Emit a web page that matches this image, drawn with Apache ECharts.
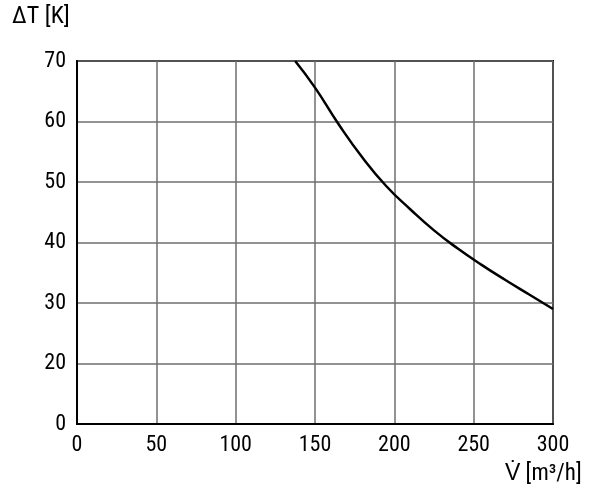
<!DOCTYPE html>
<html>
<head>
<meta charset="utf-8">
<script src="https://cdn.jsdelivr.net/npm/echarts@6/dist/echarts.min.js"></script>
<style>
  html, body { margin: 0; padding: 0; background: #fff; }
  #chart { width: 600px; height: 499px; }
</style>
</head>
<body>
<div id="chart"></div>
<script>
// volume flow [m3/h] vs temperature rise [K]
const flowValues = [137.5, 150, 165, 180, 195, 210, 225, 240, 255, 270, 285, 300];
const deltaTValues = [70, 65.6, 59.5, 54.0, 49.3, 45.5, 42.0, 39.0, 36.3, 33.8, 31.4, 29.0];
const xTicks = [0, 50, 100, 150, 200, 250, 300];
// y axis is broken: 0 sits where 10 would be, then 20 ... 70
const yTicks = [10, 20, 30, 40, 50, 60, 70];
const yTickLabels = ["0", "20", "30", "40", "50", "60", "70"];

const FONT = '"Liberation Sans Narrow", "Roboto Condensed", "Arial Narrow", "Liberation Sans", sans-serif';

var chart = echarts.init(document.getElementById("chart"));

var option = {
  animation: false,
  backgroundColor: "#fff",
  grid: {
    left: 77,
    right: 47,
    top: 61,
    bottom: 75,
    show: true,
    borderColor: "#000",
    borderWidth: 2,
  },
  xAxis: {
    type: "value",
    min: xTicks[0],
    max: xTicks[xTicks.length - 1],
    interval: 50,
    axisLine: { show: true, lineStyle: { color: "#000", width: 2 } },
    axisTick: { show: false },
    axisLabel: {
      color: "#000",
      fontSize: 22,
      fontFamily: FONT,
      margin: 10,
    },
    splitLine: { show: true, lineStyle: { color: "#6e6e6e", width: 1.5 } },
  },
  yAxis: {
    type: "value",
    min: yTicks[0],
    max: yTicks[yTicks.length - 1],
    interval: 10,
    axisLine: { show: true, lineStyle: { color: "#000", width: 2 } },
    axisTick: { show: false },
    axisLabel: {
      color: "#000",
      fontSize: 22,
      fontFamily: FONT,
      margin: 11,
      formatter: (v) => yTickLabels[yTicks.indexOf(v)] ?? "",
    },
    splitLine: { show: true, lineStyle: { color: "#6e6e6e", width: 1.5 } },
  },
  graphic: [
    {
      type: "text",
      left: 12,
      top: 5,
      style: { text: "ΔT [K]", font: "24px " + FONT, fill: "#000" },
    },
    {
      type: "text",
      left: 505,
      top: 463,
      style: { text: "V\u0307 [m³/h]", font: "23px " + FONT, fill: "#000" },
    },
  ],
  series: [
    {
      type: "line",
      data: flowValues.map((x, i) => [x, deltaTValues[i]]),
      smooth: 0.5,
      showSymbol: false,
      lineStyle: { color: "#000", width: 2.5 },
    },
  ],
};

option && chart.setOption(option);
</script>
</body>
</html>
